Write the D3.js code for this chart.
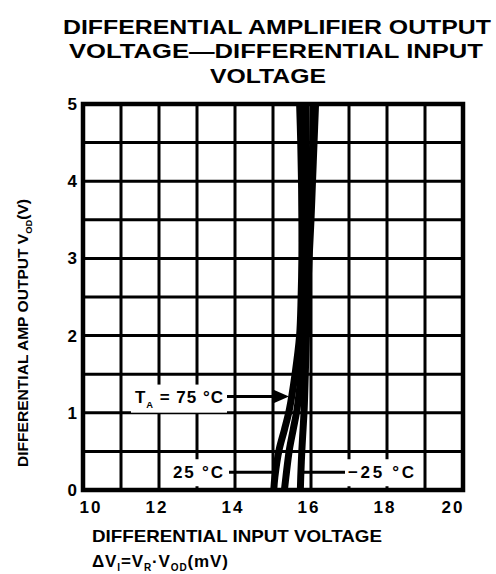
<!DOCTYPE html>
<html>
<head>
<meta charset="utf-8">
<script src="https://cdn.jsdelivr.net/npm/d3@7/dist/d3.min.js"></script>
<style>
  html, body { margin: 0; padding: 0; background: #fff; }
  svg { display: block; }
  text { font-family: "Liberation Sans", Arial, sans-serif; font-weight: bold; fill: #000; }
</style>
</head>
<body>
<svg id="chart" width="496" height="574"></svg>
<script>
// Axis ticks
const xTicks = [10, 12, 14, 16, 18, 20];
const yTicks = [0, 1, 2, 3, 4, 5];
const xGrid = d3.range(10, 20.01, 1);
const yGrid = d3.range(0, 5.01, 0.5);

// Output voltage levels (V) at which each curve was read
const vOut = [0, 0.17, 0.52, 0.78, 1.04, 1.5, 2.0, 2.5, 3.0, 3.5, 4.0, 4.5, 5.0];

// Differential input voltage (mV) for each temperature curve
const curve25  = [15.02, 15.05, 15.16, 15.30, 15.43, 15.58, 15.70, 15.74, 15.76, 15.76, 15.75, 15.73, 15.70];
const curve75  = [15.30, 15.34, 15.43, 15.53, 15.63, 15.74, 15.82, 15.86, 15.88, 15.89, 15.89, 15.88, 15.87];
const curveM25 = [15.72, 15.73, 15.76, 15.79, 15.82, 15.85, 15.88, 15.91, 15.95, 16.00, 16.04, 16.08, 16.12];

const series = [
  { name: "75", values: curve75 },
  { name: "25", values: curve25 },
  { name: "-25", values: curveM25 }
];

const svg = d3.select("#chart");
const x = d3.scaleLinear().domain([10, 20]).range([83, 463]);
const y = d3.scaleLinear().domain([0, 5]).range([490, 104]);

// Title
const titleLines = [
  { t: "DIFFERENTIAL AMPLIFIER OUTPUT", cx: 277, by: 34, w: 428 },
  { t: "VOLTAGE\u2014DIFFERENTIAL INPUT", cx: 276, by: 58, w: 414 },
  { t: "VOLTAGE", cx: 268, by: 83, w: 116 }
];
svg.append("g").selectAll("text").data(titleLines).join("text")
  .attr("x", d => d.cx).attr("y", d => d.by)
  .attr("text-anchor", "middle")
  .attr("font-size", 20)
  .attr("textLength", d => d.w).attr("lengthAdjust", "spacingAndGlyphs")
  .text(d => d.t);

// Grid
const grid = svg.append("g").attr("stroke", "#000").attr("stroke-width", 3).attr("stroke-linecap", "square");
grid.selectAll("line.v").data(xGrid).join("line").attr("class", "v")
  .attr("x1", d => x(d)).attr("x2", d => x(d))
  .attr("y1", y(0)).attr("y2", y(5));
grid.selectAll("line.h").data(yGrid).join("line").attr("class", "h")
  .attr("x1", x(10)).attr("x2", x(20))
  .attr("y1", d => y(d)).attr("y2", d => y(d));
svg.append("rect")
  .attr("x", x(10)).attr("y", y(5))
  .attr("width", x(20) - x(10)).attr("height", y(0) - y(5))
  .attr("fill", "none").attr("stroke", "#000").attr("stroke-width", 4.5);

// Curves
const line = d3.line()
  .x(d => x(d[0])).y(d => y(d[1]))
  .curve(d3.curveCatmullRom.alpha(0.5));
svg.append("g").selectAll("path").data(series).join("path")
  .attr("d", s => line(s.values.map((v, i) => [v, vOut[i]])))
  .attr("fill", "none").attr("stroke", "#000")
  .attr("stroke-width", 7).attr("stroke-linecap", "butt");

// Annotations with white backing boxes
function label(parts, xPos, yPos, anchor, size, len, boxPad) {
  const t = svg.append("text")
    .attr("x", xPos).attr("y", yPos)
    .attr("text-anchor", anchor)
    .attr("font-size", size)
    .attr("textLength", len).attr("lengthAdjust", "spacing");
  parts.forEach(p => {
    const ts = t.append("tspan").text(p.t);
    if (p.sub) ts.attr("font-size", size * 0.55).attr("dy", size * 0.3);
    if (p.back) ts.attr("dy", -size * 0.3);
  });
  const b = t.node().getBBox();
  svg.insert("rect", () => t.node())
    .attr("x", b.x - boxPad[0]).attr("y", b.y - boxPad[1])
    .attr("width", b.width + boxPad[0] * 2).attr("height", b.height + boxPad[1] * 2)
    .attr("fill", "#fff");
  return t;
}

// 75 °C arrow
const yA75 = 1.21;
svg.append("line")
  .attr("x1", 226).attr("x2", x(15.3))
  .attr("y1", y(yA75)).attr("y2", y(yA75))
  .attr("stroke", "#000").attr("stroke-width", 3);
svg.append("path")
  .attr("d", `M${x(15.0)},${y(yA75) - 7}L${x(15.42)},${y(yA75)}L${x(15.0)},${y(yA75) + 7}Z`)
  .attr("fill", "#000");
label([{ t: "T" }, { t: "A", sub: true }, { t: " = 75 \u00B0C", back: true }], 223, y(yA75) + 6, "end", 17, 88, [4, 3]);

// 25 °C arrow
const yA25 = 0.23;
svg.append("line")
  .attr("x1", 226).attr("x2", x(15.06))
  .attr("y1", y(yA25)).attr("y2", y(yA25))
  .attr("stroke", "#000").attr("stroke-width", 3);
label([{ t: "25 \u00B0C" }], 223, y(yA25) + 6, "end", 17, 50, [6, 4]);

// -25 °C arrow
svg.append("line")
  .attr("x1", x(15.73)).attr("x2", 348)
  .attr("y1", y(yA25)).attr("y2", y(yA25))
  .attr("stroke", "#000").attr("stroke-width", 3);
label([{ t: "\u221225 \u00B0C" }], 348, y(yA25) + 6, "start", 17, 66, [3, 4]);

// Y tick labels
svg.append("g").selectAll("text").data(yTicks).join("text")
  .attr("x", 77).attr("y", d => y(d) + 6)
  .attr("text-anchor", "end").attr("font-size", 17)
  .text(d => d);

// X tick labels
const xLabelShift = { 10: 10, 20: -8 };
svg.append("g").selectAll("text").data(xTicks).join("text")
  .attr("x", d => x(d) + (xLabelShift[d] || 0) - 2).attr("y", 513)
  .attr("text-anchor", "middle").attr("font-size", 17)
  .attr("letter-spacing", 2)
  .text(d => d);

// X axis title
svg.append("text").attr("x", 92).attr("y", 542).attr("font-size", 17)
  .attr("textLength", 290).attr("lengthAdjust", "spacingAndGlyphs")
  .text("DIFFERENTIAL INPUT VOLTAGE");
const xt2 = svg.append("text").attr("x", 92).attr("y", 567).attr("font-size", 17)
  .attr("textLength", 136).attr("lengthAdjust", "spacing");
[["\u0394V"], ["I", 1], ["=V", -1], ["R", 1], ["\u00B7V", -1], ["OD", 1], ["(mV)", -1]].forEach(([s, k]) => {
  const ts = xt2.append("tspan").text(s);
  if (k === 1) ts.attr("font-size", 10).attr("dy", 4);
  if (k === -1) ts.attr("dy", -4);
});

// Y axis title
const yt = svg.append("text")
  .attr("transform", "translate(28,333) rotate(-90)")
  .attr("text-anchor", "middle").attr("font-size", 15)
  .attr("textLength", 268).attr("lengthAdjust", "spacingAndGlyphs");
[["DIFFERENTIAL AMP OUTPUT V"], ["OD", 1], ["(V)", -1]].forEach(([s, k]) => {
  const ts = yt.append("tspan").text(s);
  if (k === 1) ts.attr("font-size", 9).attr("dy", 4);
  if (k === -1) ts.attr("dy", -4);
});
</script>
</body>
</html>
